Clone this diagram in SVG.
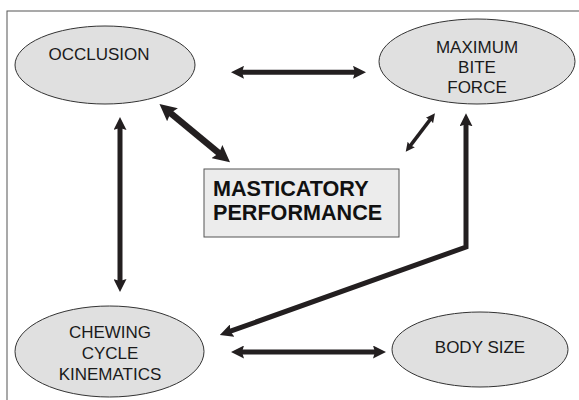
<svg xmlns="http://www.w3.org/2000/svg" width="579" height="400" viewBox="0 0 579 400">
<style>
.node ellipse{fill:#e0e0e0;stroke:#333;stroke-width:1}
.lbl{font-family:"Liberation Sans",Arial,sans-serif;font-size:17px;fill:#1a1a1a;text-anchor:middle}
.big{font-family:"Liberation Sans",Arial,sans-serif;font-size:21.6px;font-weight:bold;fill:#111}
.conn{fill:none;stroke:#231f20;stroke-linejoin:miter;marker-start:url(#ah);marker-end:url(#ah)}
</style>
<defs>
<marker id="ah" viewBox="0 0 10 10" refX="3" refY="5" markerWidth="2.6" markerHeight="2.6" markerUnits="strokeWidth" orient="auto-start-reverse">
<path d="M0,0 L10,5 L0,10 L1.5,5 z" fill="#231f20"/>
</marker>
</defs>
<rect x="0" y="0" width="579" height="400" fill="#fff"/>
<rect x="7" y="11" width="590" height="410" fill="none" stroke="#555" stroke-width="1"/>
<g id="connectors">
<path class="conn" stroke-width="5" d="M240.1,72.3 L356.9,72.3"/>
<path class="conn" stroke-width="5" d="M240.1,352 L376.9,352"/>
<path class="conn" stroke-width="5" d="M120,126.1 L120,282.9"/>
<path class="conn" stroke-width="6.5" d="M168.6,111.5 L220.9,154.8"/>
<path class="conn" stroke-width="3.5" d="M431.1,118.4 L409.6,146.6"/>
<path class="conn" stroke-width="5" d="M466,122.4 L466,247 L228.4,331.9"/>
</g>
<g id="occlusion" class="node">
<ellipse cx="105" cy="65" rx="90" ry="39"/>
<text class="lbl" x="99" y="60">OCCLUSION</text>
</g>
<g id="maximum-bite-force" class="node">
<ellipse cx="477" cy="61.5" rx="98" ry="42.5"/>
<text class="lbl" x="477" y="53">MAXIMUM</text>
<text class="lbl" x="477" y="73">BITE</text>
<text class="lbl" x="477" y="93">FORCE</text>
</g>
<g id="masticatory-performance">
<rect x="204" y="169" width="195" height="68" fill="#ececec" stroke="#555" stroke-width="1"/>
<text class="big" x="213" y="196">MASTICATORY</text>
<text class="big" x="213" y="220">PERFORMANCE</text>
</g>
<g id="chewing-cycle-kinematics" class="node">
<ellipse cx="109.5" cy="351.5" rx="94.5" ry="45.5"/>
<text class="lbl" x="110" y="338">CHEWING</text>
<text class="lbl" x="110" y="359">CYCLE</text>
<text class="lbl" x="110" y="380">KINEMATICS</text>
</g>
<g id="body-size" class="node">
<ellipse cx="480" cy="349.5" rx="88" ry="37.5"/>
<text class="lbl" x="480" y="353">BODY SIZE</text>
</g>
</svg>
